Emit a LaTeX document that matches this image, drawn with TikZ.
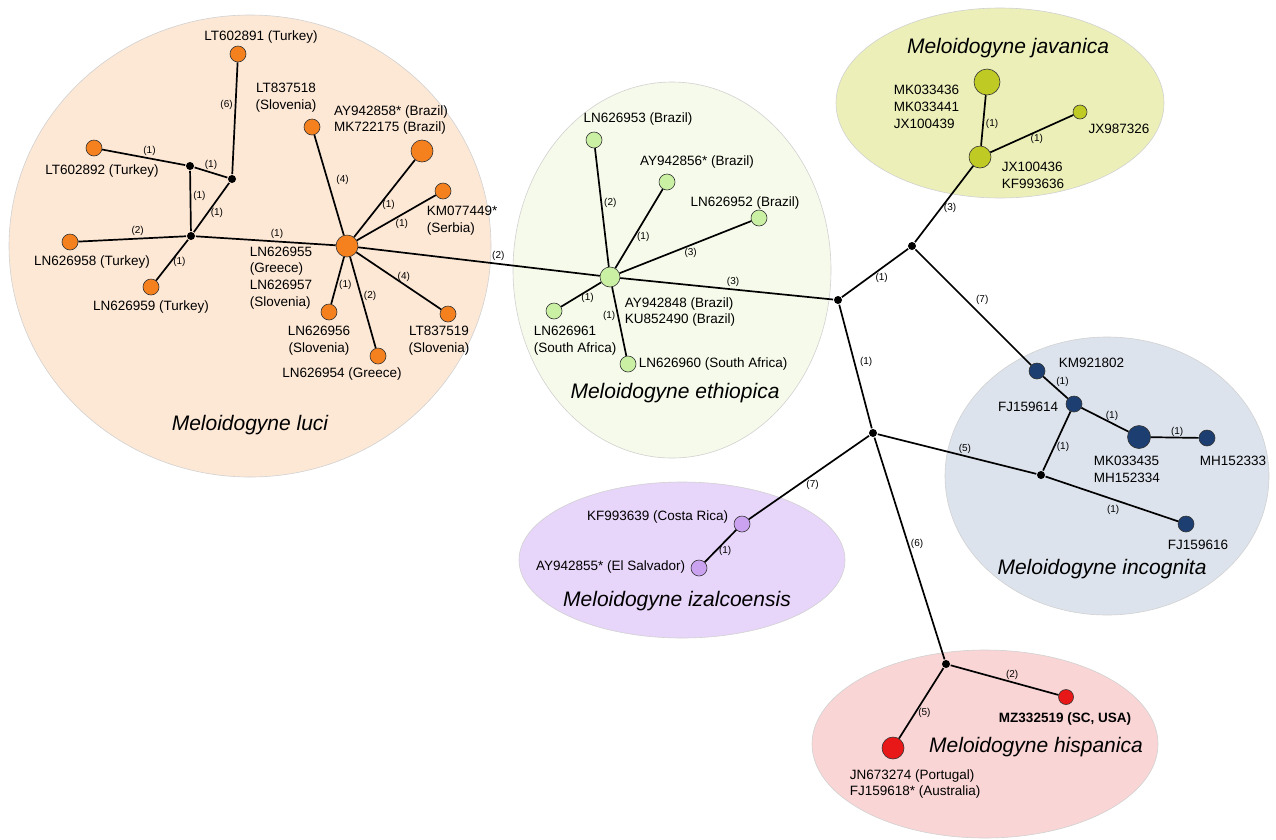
\documentclass[tikz,border=0pt]{standalone}
\usepackage{fontspec}
\setmainfont{Liberation Sans}
\usepackage{xcolor}
\usepackage{tikz}
\usetikzlibrary{arrows}
\usetikzlibrary{calc}
\usetikzlibrary{positioning}

\definecolor{lucibg}{RGB}{253,232,214}
\definecolor{lucinode}{RGB}{245,128,30}
\definecolor{ethbg}{RGB}{246,250,234}
\definecolor{ethnode}{RGB}{202,240,164}
\definecolor{javbg}{RGB}{236,240,184}
\definecolor{javnode}{RGB}{192,202,36}
\definecolor{incbg}{RGB}{221,227,237}
\definecolor{incnode}{RGB}{28,62,112}
\definecolor{izabg}{RGB}{232,213,250}
\definecolor{izanode}{RGB}{202,162,240}
\definecolor{hisbg}{RGB}{250,213,213}
\definecolor{hisnode}{RGB}{232,24,24}

\begin{document}
\begin{tikzpicture}[-,x=1pt,y=-1pt,line width=1.7pt]
 \tikzstyle{hap}=[draw=black!80, line width=0.6pt, circle, inner sep=0pt, minimum size=16pt]
 \tikzstyle{med}=[fill=black, circle, inner sep=0pt, minimum size=8pt]
 \tikzstyle{txt}=[font=\fontsize{13.5}{16.7}\selectfont, inner sep=1pt]
 \tikzstyle{lab}=[font=\fontsize{10}{12}\selectfont, inner sep=2pt]
 \tikzstyle{sp}=[font=\fontsize{21}{24}\selectfont\itshape]
 \tikzstyle{grp}=[draw=black!18, line width=0.6pt]
 \useasboundingbox (0,0) rectangle (1276,839);

 % species groups
 \draw[grp, fill=lucibg] (250,246) ellipse [x radius=241pt, y radius=231pt];
 \draw[grp, fill=ethbg] (672,270) ellipse [x radius=159pt, y radius=188pt];
 \draw[grp, fill=javbg] (1000,103) ellipse [x radius=164pt, y radius=95pt];
 \draw[grp, fill=incbg] (1107,476) ellipse [x radius=162pt, y radius=139pt];
 \draw[grp, fill=izabg] (682,560) ellipse [x radius=163pt, y radius=78pt];
 \draw[grp, fill=hisbg] (985,744) ellipse [x radius=173pt, y radius=94pt];

 % M. luci
 \node[hap, fill=lucinode] (LT91) at (238,54) {};
 \node[hap, fill=lucinode] (LT92) at (94,148) {};
 \node[med] (m1) at (190,166) {};
 \node[med] (m2) at (232,179) {};
 \node[med] (m3) at (191,236) {};
 \node[hap, fill=lucinode] (LN58) at (70,242) {};
 \node[hap, fill=lucinode] (LN59) at (151,287) {};
 \node[hap, fill=lucinode, minimum size=22pt] (LU) at (347,246) {};
 \node[hap, fill=lucinode] (LT18) at (312,127) {};
 \node[hap, fill=lucinode, minimum size=22pt] (AY58) at (422,151) {};
 \node[hap, fill=lucinode] (KM49) at (443,191) {};
 \node[hap, fill=lucinode] (LN56) at (329,312) {};
 \node[hap, fill=lucinode] (LN54) at (378,356) {};
 \node[hap, fill=lucinode] (LT19) at (448,314) {};

 \node[txt] (LT91t) at (261,37) {LT602891 (Turkey)};
 \node[txt] (LT92t) at (102,171) {LT602892 (Turkey)};
 \node[txt] (LN58t) at (92,262) {LN626958 (Turkey)};
 \node[txt] (LN59t) at (151,307) {LN626959 (Turkey)};
 \node[txt, align=center] (LT18t) at (286,98) {LT837518\\(Slovenia)};
 \node[txt, align=left] (AY58t) at (391,120) {AY942858* (Brazil)\\MK722175 (Brazil)};
 \node[txt, align=left, anchor=west] (KM49t) at (425,221) {KM077449*\\(Serbia)};
 \node[txt, align=left, anchor=west] (LUt) at (248,278) {LN626955\\(Greece)\\LN626957\\(Slovenia)};
 \node[txt, align=center] (LN56t) at (319,341) {LN626956\\(Slovenia)};
 \node[txt] (LN54t) at (342,374) {LN626954 (Greece)};
 \node[txt, align=center] (LT19t) at (439,341) {LT837519\\(Slovenia)};
 \node[sp] (luci) at (250,425) {Meloidogyne luci};

 % M. ethiopica
 \node[hap, fill=ethnode, minimum size=20pt] (EH) at (610,277) {};
 \node[hap, fill=ethnode] (LN53) at (594,140) {};
 \node[hap, fill=ethnode] (AY56) at (667,182) {};
 \node[hap, fill=ethnode] (LN52) at (759,218) {};
 \node[hap, fill=ethnode] (LN61) at (554,311) {};
 \node[hap, fill=ethnode] (LN60) at (628,364) {};

 \node[txt] (LN53t) at (638,119) {LN626953 (Brazil)};
 \node[txt] (AY56t) at (697,162) {AY942856* (Brazil)};
 \node[txt] (LN52t) at (745,203) {LN626952 (Brazil)};
 \node[txt, align=left, anchor=west] (LN61t) at (532,341) {LN626961\\(South Africa)};
 \node[txt, anchor=west] (LN60t) at (637,364) {LN626960 (South Africa)};
 \node[txt, align=left, anchor=west] (EHt) at (623,312) {AY942848 (Brazil)\\KU852490 (Brazil)};
 \node[sp] (ethiopica) at (675,393) {Meloidogyne ethiopica};

 % backbone
 \node[med] (m4) at (838,300) {};
 \node[med] (m5) at (912,246) {};
 \node[med] (m6) at (873,433) {};
 \node[med] (m7) at (946,664) {};
 \node[med] (m8) at (1041,475) {};

 % M. javanica
 \node[hap, fill=javnode, minimum size=22pt] (JH) at (980,157) {};
 \node[hap, fill=javnode, minimum size=26pt] (JT) at (987,82) {};
 \node[hap, fill=javnode, minimum size=14pt] (JX26) at (1080,112) {};

 \node[txt, align=left, anchor=west] (JTt) at (892,107) {MK033436\\MK033441\\JX100439};
 \node[txt] (JX26t) at (1119,129) {JX987326};
 \node[txt, align=left, anchor=west] (JHt) at (1000,175) {JX100436\\KF993636};
 \node[sp] (javanica) at (1008,48) {Meloidogyne javanica};

 % M. incognita
 \node[hap, fill=incnode] (KM02) at (1037,371) {};
 \node[hap, fill=incnode] (FJ14) at (1074,404) {};
 \node[hap, fill=incnode, minimum size=23pt] (MK35) at (1139,437) {};
 \node[hap, fill=incnode] (MH33) at (1207,438) {};
 \node[hap, fill=incnode] (FJ16) at (1186,524) {};

 \node[txt, anchor=west] (KM02t) at (1057,363) {KM921802};
 \node[txt, anchor=east] (FJ14t) at (1060,407) {FJ159614};
 \node[txt, align=left, anchor=west] (MK35t) at (1092,469) {MK033435\\MH152334};
 \node[txt] (MH33t) at (1233,461) {MH152333};
 \node[txt] (FJ16t) at (1198,545) {FJ159616};
 \node[sp] (incognita) at (1102,569) {Meloidogyne incognita};

 % M. izalcoensis
 \node[hap, fill=izanode] (KF39) at (742,524) {};
 \node[hap, fill=izanode] (AY55) at (699,568) {};

 \node[txt, anchor=east] (KF39t) at (730,517) {KF993639 (Costa Rica)};
 \node[txt, anchor=east] (AY55t) at (687,567) {AY942855* (El Salvador)};
 \node[sp] (izalcoensis) at (677,601) {Meloidogyne izalcoensis};

 % M. hispanica
 \node[hap, fill=hisnode, minimum size=15pt] (MZ19) at (1066,697) {};
 \node[hap, fill=hisnode, minimum size=22pt] (JN74) at (893,748) {};

 \node[txt, font=\fontsize{13.5}{16.7}\selectfont\bfseries] (MZ19t) at (1065,719) {MZ332519 (SC, USA)};
 \node[txt, align=left, anchor=west] (JN74t) at (848,784) {JN673274 (Portugal)\\FJ159618* (Australia)};
 \node[sp] (hispanica) at (1036,747) {Meloidogyne hispanica};

 \path
  (LT91) edge node[lab, left, pos=.38] {(6)} (m2)
  (LT92) edge node[lab, above, pos=.57] {(1)} (m1)
  (m1) edge node[lab, above] {(1)} (m2)
  (m1) edge node[lab, right, pos=.42] {(1)} (m3)
  (m2) edge node[lab, right, pos=.6] {(1)} (m3)
  (LN58) edge node[lab, above, pos=.55] {(2)} (m3)
  (m3) edge node[lab, right, pos=.55] {(1)} (LN59)
  (m3) edge node[lab, above, pos=.58] {(1)} (LU)
  (LU) edge node[lab, right=6pt, pos=.55] {(4)} (LT18)
  (LU) edge node[lab, right, pos=.42] {(1)} (AY58)
  (LU) edge node[lab, below=2pt, pos=.57] {(1)} (KM49)
  (LU) edge node[lab, right, pos=.6] {(1)} (LN56)
  (LU) edge node[lab, right, pos=.43] {(2)} (LN54)
  (LU) edge node[lab, above, pos=.56] {(4)} (LT19)
  (LU) edge node[lab, above, pos=.58] {(2)} (EH)
  (EH) edge node[lab, right, pos=.54] {(2)} (LN53)
  (EH) edge node[lab, right, pos=.4] {(1)} (AY56)
  (EH) edge node[lab, below, pos=.54] {(3)} (LN52)
  (EH) edge node[lab, above, pos=.53] {(3)} (m4)
  (EH) edge node[lab, below, pos=.34] {(1)} (LN61)
  (EH) edge node[lab, left, pos=.42] {(1)} (LN60)
  (m4) edge node[lab, below=2pt, pos=.6] {(1)} (m5)
  (m5) edge node[lab, right, pos=.45] {(3)} (JH)
  (m5) edge node[lab, above right, pos=.5] {(7)} (KM02)
  (m4) edge node[lab, right=3pt, pos=.46] {(1)} (m6)
  (m6) edge node[lab, above, pos=.55] {(5)} (m8)
  (m6) edge node[lab, below=2pt, pos=.47] {(7)} (KF39)
  (m6) edge node[lab, right, pos=.48] {(6)} (m7)
  (JH) edge node[lab, right, pos=.43] {(1)} (JT)
  (JH) edge node[lab, below, pos=.56] {(1)} (JX26)
  (KM02) edge node[lab, above right, pos=.5, inner sep=0pt] {(1)} (FJ14)
  (FJ14) edge node[lab, above, pos=.65] {(1)} (MK35)
  (MK35) edge node[lab, above, pos=.55, inner sep=0pt] {(1)} (MH33)
  (FJ14) edge node[lab, right, pos=.6] {(1)} (m8)
  (m8) edge node[lab, below=3pt, pos=.51] {(1)} (FJ16)
  (KF39) edge node[lab, below=2pt, pos=.35] {(1)} (AY55)
  (m7) edge node[lab, above, pos=.57] {(2)} (MZ19)
  (m7) edge node[lab, right, pos=.63] {(5)} (JN74);
\end{tikzpicture}
\end{document}
